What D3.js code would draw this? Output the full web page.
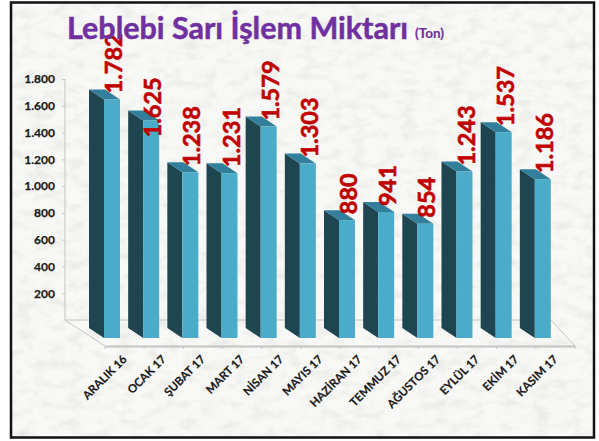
<!DOCTYPE html>
<html><head><meta charset="utf-8">
<script src="https://cdn.jsdelivr.net/npm/d3@7"></script>
<style>html,body{margin:0;padding:0;background:#fff}svg{display:block}text{font-family:Lato,"Noto Sans",sans-serif}</style>
</head><body><div id="c"></div>
<script>
const categories=["ARALIK 16","OCAK 17","ŞUBAT 17","MART 17","NİSAN 17","MAYIS 17","HAZİRAN 17","TEMMUZ 17","AĞUSTOS 17","EYLÜL 17","EKİM 17","KASIM 17"];
const values=[1782,1625,1238,1231,1579,1303,880,941,854,1243,1537,1186];
const yTicks=[200,400,600,800,1000,1200,1400,1600,1800];
const labelShift=[0,23,0,0,0,0,0,0,0,0,0,0];
const titleText="Leblebi Sarı İşlem Miktarı", unitText="(Ton)";

const W=599,H=441;
const svg=d3.select("#c").append("svg").attr("width",W).attr("height",H);
const defs=svg.append("defs");
const f=defs.append("filter").attr("id","marble").attr("x",0).attr("y",0).attr("width","100%").attr("height","100%");
f.append("feTurbulence").attr("type","fractalNoise").attr("baseFrequency","0.06 0.1").attr("numOctaves",5).attr("seed",11).attr("result","n");
f.append("feColorMatrix").attr("in","n").attr("type","matrix").attr("values","0 0 0 0 0.82  0 0 0 0 0.82  0 0 0 0 0.80  2.2 0 0 0 -0.95");
f.append("feComposite").attr("in2","SourceGraphic").attr("operator","over");

svg.append("rect").attr("x",11).attr("y",2.5).attr("width",583).attr("height",435).attr("fill","#f8f8f6").attr("filter","url(#marble)");
svg.append("rect").attr("x",11).attr("y",2.5).attr("width",583).attr("height",435).attr("fill","none").attr("stroke","#111").attr("stroke-width",2.5);

const baseBack=320, baseFront=346, barBase=338, dx=15, dy=10, faceW=16;
const y=d3.scaleLinear().domain([0,1800]).range([baseBack,79]);
const x=d3.scaleBand().domain(categories).range([105,575]);
const yBar=v=>y(v)+(barBase-baseBack);
const grey="#c4c4c4";

const g=svg.append("g");
const backL=65, backR=551;
g.append("path").attr("fill","none").attr("stroke",grey).attr("stroke-width",1)
 .attr("d",d3.line()([[backL,y(1800)],[backL,baseBack],[backR,baseBack],[x.range()[1],baseFront]]));
g.append("path").attr("fill","none").attr("stroke",grey).attr("stroke-width",1)
 .attr("d",d3.line()([[backL,baseBack],[x.range()[0],baseFront]]));

const loc=d3.formatLocale({decimal:",",thousands:".",grouping:[3],currency:["","₺"]});
const fmt=loc.format(",d");

const ya=svg.append("g").attr("transform",`translate(${backL},0)`)
 .call(d3.axisLeft(y).tickValues(yTicks).tickFormat(fmt).tickSize(3).tickPadding(7));
ya.select(".domain").remove();
ya.selectAll("line").attr("stroke",grey);
ya.selectAll("text").attr("fill","#1a1a1a").style("font-size","12px").style("font-weight",700).style("font-family","Lato").style("stroke","#1a1a1a").style("stroke-width","0.25px");

const xa=svg.append("g").attr("transform",`translate(0,${baseFront})`)
 .call(d3.axisBottom(x).tickSize(0).tickPadding(0));
xa.select(".domain").attr("stroke",grey).attr("stroke-width",2);
xa.selectAll(".tick text").attr("fill","#1a1a1a").attr("text-anchor","end").attr("dy",0).attr("y",0)
 .attr("transform","translate(3,14) rotate(-45)").style("font-size","11.5px").style("font-weight",700).style("font-family","Lato").style("stroke","#1a1a1a").style("stroke-width","0.2px");
svg.append("g").selectAll("line").data(categories.concat("_end")).join("line")
 .attr("x1",(d,i)=>x.range()[0]+i*x.step()).attr("x2",(d,i)=>x.range()[0]+i*x.step())
 .attr("y1",baseFront).attr("y2",baseFront+3).attr("stroke",grey);

const bars=svg.append("g").selectAll("g").data(categories.map((c,i)=>({c,v:values[i],s:labelShift[i]}))).join("g");
const px=d=>x(d.c)-1;
bars.append("polygon").attr("fill","#1f4650").attr("points",d=>[[px(d)-dx,yBar(d.v)-dy],[px(d),yBar(d.v)],[px(d),barBase],[px(d)-dx,barBase-dy]].join(" "));
bars.append("polygon").attr("fill","#327f9b").attr("points",d=>[[px(d)-dx,yBar(d.v)-dy],[px(d)+faceW-dx,yBar(d.v)-dy],[px(d)+faceW,yBar(d.v)],[px(d),yBar(d.v)]].join(" "));
bars.append("rect").attr("fill","#4aacc8").attr("x",px).attr("y",d=>yBar(d.v)).attr("width",faceW).attr("height",d=>barBase-yBar(d.v));

svg.append("text").attr("x",67).attr("y",39).attr("fill","#7030a0").style("font-weight",700).style("font-size","30.5px").style("stroke","#7030a0").style("stroke-width","0.5px").text(titleText);
svg.append("text").attr("x",415).attr("y",38).attr("fill","#7030a0").style("font-weight",700).style("font-size","13.5px").style("stroke","#7030a0").style("stroke-width","0.2px").text(unitText);

bars.append("text").attr("fill","#c00000").style("font-weight",700).style("font-size","23.5px").style("stroke","#c00000").style("stroke-width","0.6px")
 .attr("transform",d=>`translate(${px(d)+18},${yBar(d.v)-6+d.s}) rotate(-90)`)
 .text(d=>fmt(d.v));
</script></body></html>
